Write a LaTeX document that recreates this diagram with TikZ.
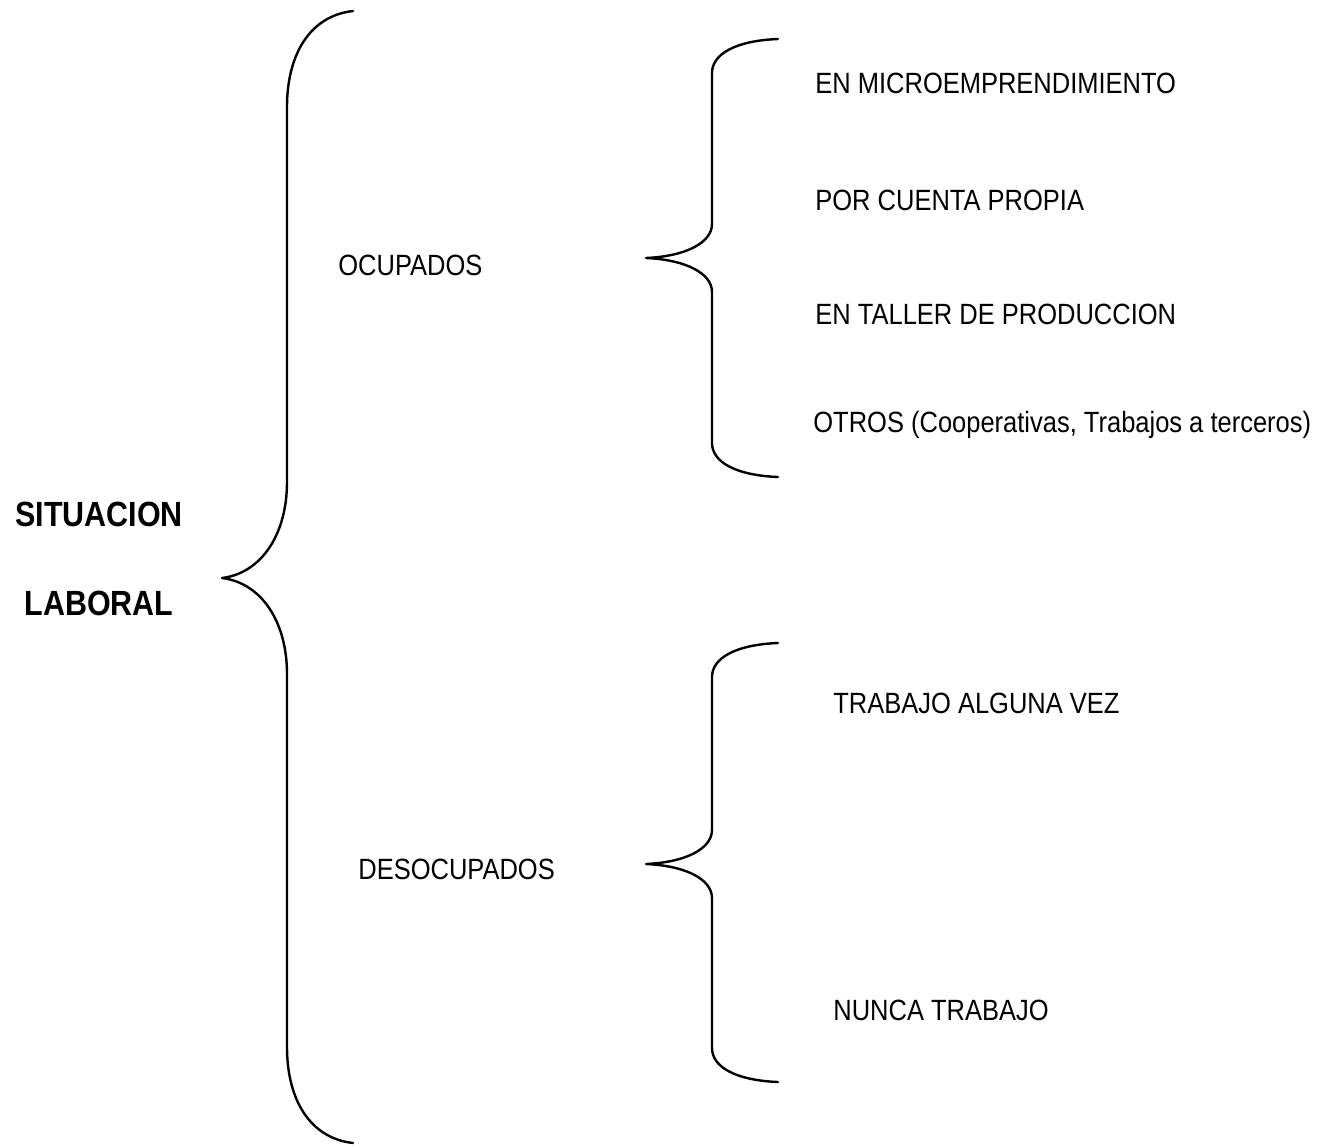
\documentclass[tikz,border=0pt]{standalone}
\usepackage{fontspec}
\setmainfont{Liberation Sans}
\newfontfamily\labelFont[FakeStretch=0.87]{Liberation Sans}

\begin{document}
\begin{tikzpicture}
[x=0.5pt,y=-0.5pt,%
  braceDecorate/.style={-,line width=1.2pt,line join=round,line cap=round},%
  labelDecorate/.style={anchor=base west,inner sep=0pt,font=\labelFont\fontsize{14.65}{17}\selectfont},%
  titleDecorate/.style={anchor=base,inner sep=0pt,font=\labelFont\fontsize{17.5}{20}\selectfont\bfseries}]
\useasboundingbox (0,0) rectangle (1334,1146);
%% title
\node[titleDecorate] (sit) at (99,526) {SITUACION};
\node[titleDecorate] (lab) at (99,615) {LABORAL};
%% braces: end x / spine x / tip x / top y / tip y / bottom y / bend
\foreach \xe/\xs/\xt/\yo/\yt/\yu/\a in {
  353/287/222/11/578/1143/96,
  778/712/646/39/258/477/34,
  778/712/646/643/864/1082/34}
{
  \draw[braceDecorate] (\xe,\yo)
    .. controls ({\xs+0.35*(\xe-\xs)},{\yo+0.05*\a}) and (\xs,{\yo+0.45*\a}) .. (\xs,{\yo+\a})
    -- (\xs,{\yt-\a})
    .. controls (\xs,{\yt-0.45*\a}) and ({\xt+0.6*(\xs-\xt)},{\yt-0.05*\a}) .. (\xt,\yt)
    .. controls ({\xt+0.6*(\xs-\xt)},{\yt+0.05*\a}) and (\xs,{\yt+0.45*\a}) .. (\xs,{\yt+\a})
    -- (\xs,{\yu-\a})
    .. controls (\xs,{\yu-0.45*\a}) and ({\xs+0.35*(\xe-\xs)},{\yu-0.05*\a}) .. (\xe,\yu);
}
%% node labels
\foreach \nodename/\x/\y/\txt in {
  ocup/338/275/OCUPADOS, desocup/358/879/DESOCUPADOS,
  micro/815/93/EN MICROEMPRENDIMIENTO, propia/815/210/POR CUENTA PROPIA,
  taller/815/324/EN TALLER DE PRODUCCION,
  otros/813/432/{OTROS (Cooperativas, Trabajos a terceros)},
  alguna/833/713/TRABAJO ALGUNA VEZ, nunca/833/1020/NUNCA TRABAJO}
{
  \node[labelDecorate] (\nodename) at (\x,\y) {\txt};
}
\end{tikzpicture}
\end{document}
